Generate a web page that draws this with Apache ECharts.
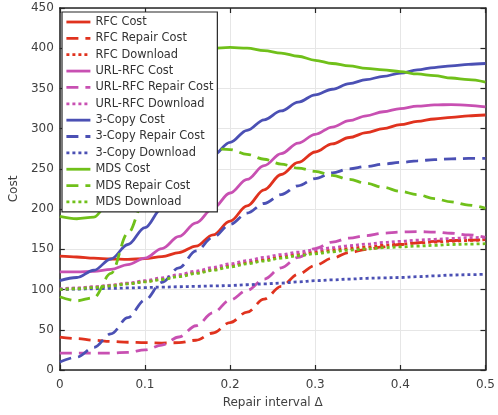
<!DOCTYPE html>
<html>
<head>
<meta charset="utf-8">
<script src="https://cdn.jsdelivr.net/npm/echarts@6/dist/echarts.min.js"></script>
<style>
  html, body { margin: 0; padding: 0; background: #fff; }
  #chart { width: 498px; height: 415px; }
</style>
</head>
<body>
<div id="chart"></div>
<script>
// Repair interval samples (shared by every curve)
const intervals = [0, 0.02, 0.04, 0.06, 0.08, 0.10, 0.12, 0.14, 0.16, 0.18, 0.20, 0.22, 0.24,
                   0.26, 0.28, 0.30, 0.32, 0.34, 0.36, 0.38, 0.40, 0.42, 0.44, 0.46, 0.48, 0.50];

const rfcCost        = [141.5, 140.5, 139, 138, 137.5, 138.5, 141, 146, 154, 168, 185, 204, 224, 243, 258, 271, 281, 289, 295, 300, 305, 309, 312, 314, 316, 317];
const rfcRepair      = [41, 39, 37, 35.5, 34.5, 34, 33.5, 34, 37, 46, 59, 72, 88, 104, 119, 130, 139, 146, 150, 153, 156, 158, 160, 161, 161.5, 162];
const rfcDownload    = [100, 101.5, 103, 105, 107.5, 110, 113, 117, 121, 125, 129.5, 133.5, 137, 140.5, 143.5, 146.5, 149, 151, 153, 155, 156.5, 158, 159, 160, 161, 162];

const urlCost        = [122, 122, 122.5, 125, 131, 139, 151, 166, 183, 201, 220, 237, 254, 269, 282, 293, 302, 310, 316, 321, 325, 328, 329.5, 330, 329, 327];
const urlRepair      = [21, 21, 21, 21, 22, 25, 31, 41, 55, 71, 87, 99, 113, 127, 140, 151, 159, 164, 167, 170, 171.5, 172, 171.5, 170, 168, 165];
const urlDownload    = [101, 102, 103.5, 105.5, 108, 111, 114.5, 118.5, 123, 127.5, 132, 136, 140, 143.5, 146.5, 149.5, 152, 154.5, 156.5, 158.5, 160, 161.5, 162.5, 163.5, 164.5, 165];

const copyCost       = [111, 115, 124, 138, 156, 177, 201, 225, 248, 267, 283, 298, 311, 322, 333, 342, 349, 356, 361, 365, 369, 373, 376, 378, 380, 381];
const copyRepair     = [10, 16, 28, 45, 65, 87, 109, 127, 148, 165, 181, 195, 207, 218, 229, 238, 245, 250, 253, 256, 258, 260, 261.5, 262.5, 263, 263];
const copyDownload   = [100, 100.5, 101, 101.5, 102, 102.5, 103, 103.5, 104, 104.5, 105, 106, 107, 108, 109.5, 111, 112, 113, 114, 114.5, 115, 116, 117, 118, 118.5, 119];

const mdsCost        = [191, 188, 190, 212, 262, 312, 352, 378, 393, 400, 401, 400, 397, 394, 390, 385, 381, 378, 375, 373, 371, 368, 366, 363, 361, 358];
const mdsRepair      = [91, 86, 90, 120, 170, 213, 243, 261, 271, 275, 274, 268, 262, 256, 251, 247, 242, 237, 232, 227, 222, 218, 213, 209, 205, 201];
const mdsDownload    = [100, 101, 102.5, 104.5, 107, 109.5, 112.5, 116, 120, 124, 128, 132, 135.5, 139, 142, 144.5, 147, 149, 150.5, 152, 153, 154, 155, 156, 156.5, 157];

const xTicks = [0, 0.1, 0.2, 0.3, 0.4, 0.5];
const yTicks = [0, 50, 100, 150, 200, 250, 300, 350, 400, 450];

const RED = '#e0321e', MAGENTA = '#c850b2', BLUE = '#4b50b4', GREEN = '#70c01a';
const SOLID = 'solid', DASHED = [12, 7], DOTTED = [3, 3];

const curves = [
  ['RFC Cost', rfcCost, RED, SOLID],
  ['RFC Repair Cost', rfcRepair, RED, DASHED],
  ['RFC Download', rfcDownload, RED, DOTTED],
  ['URL-RFC Cost', urlCost, MAGENTA, SOLID],
  ['URL-RFC Repair Cost', urlRepair, MAGENTA, DASHED],
  ['URL-RFC Download', urlDownload, MAGENTA, DOTTED],
  ['3-Copy Cost', copyCost, BLUE, SOLID],
  ['3-Copy Repair Cost', copyRepair, BLUE, DASHED],
  ['3-Copy Download', copyDownload, BLUE, DOTTED],
  ['MDS Cost', mdsCost, GREEN, SOLID],
  ['MDS Repair Cost', mdsRepair, GREEN, DASHED],
  ['MDS Download', mdsDownload, GREEN, DOTTED]
];

const FONT = 'DejaVu Sans';
const TXT = '#404040';
const AXIS = '#262626';

const xMin = xTicks[0], xMax = xTicks[xTicks.length - 1], xStep = xTicks[1] - xTicks[0];
const yMin = yTicks[0], yMax = yTicks[yTicks.length - 1], yStep = yTicks[1] - yTicks[0];

function mirrorAxis(position, min, max, step) {
  return {
    type: 'value', position, min, max, interval: step,
    axisLine: { show: true, onZero: false, lineStyle: { color: AXIS, width: 1.6 } },
    axisTick: { show: true, inside: true, length: 5, lineStyle: { color: AXIS, width: 1.2 } },
    axisLabel: { show: false },
    splitLine: { show: false }
  };
}

const chart = echarts.init(document.getElementById('chart'), null, { renderer: 'canvas' });

chart.setOption({
  animation: false,
  backgroundColor: '#fff',
  grid: { left: 54, right: 10, top: 8, bottom: 45 },
  legend: {
    orient: 'vertical',
    left: 62, top: 12,
    padding: [4, 4, 4, 3],
    itemGap: 4.36,
    itemWidth: 24,
    itemHeight: 12,
    backgroundColor: '#fff',
    borderColor: AXIS,
    borderWidth: 1.2,
    borderRadius: 0,
    // keep only the line sample in each legend icon
    itemStyle: { opacity: 0 },
    lineStyle: { width: 2.8 },
    textStyle: { fontFamily: FONT, fontSize: 11.4, lineHeight: 12, color: '#333' },
    data: curves.map(c => c[0])
  },
  xAxis: [
    {
      type: 'value', min: xMin, max: xMax, interval: xStep,
      name: 'Repair interval \u0394', nameLocation: 'middle', nameGap: 27,
      nameTextStyle: { fontFamily: FONT, fontSize: 12, color: TXT },
      axisLine: { show: true, onZero: false, lineStyle: { color: AXIS, width: 1.6 } },
      axisTick: { show: true, inside: true, length: 5, lineStyle: { color: AXIS, width: 1.2 } },
      axisLabel: { fontFamily: FONT, fontSize: 12, color: TXT, margin: 9 },
      splitLine: { show: true, lineStyle: { color: '#e6e6e6', width: 1 } }
    },
    mirrorAxis('top', xMin, xMax, xStep)
  ],
  yAxis: [
    {
      type: 'value', min: yMin, max: yMax, interval: yStep,
      name: 'Cost', nameLocation: 'middle', nameGap: 32,
      nameTextStyle: { fontFamily: FONT, fontSize: 12, color: TXT },
      axisLine: { show: true, onZero: false, lineStyle: { color: AXIS, width: 1.6 } },
      axisTick: { show: true, inside: true, length: 5, lineStyle: { color: AXIS, width: 1.2 } },
      axisLabel: { fontFamily: FONT, fontSize: 12, color: TXT, margin: 6 },
      splitLine: { show: true, lineStyle: { color: '#e6e6e6', width: 1 } }
    },
    mirrorAxis('right', yMin, yMax, yStep)
  ],
  series: curves.map(([name, values, color, dash]) => ({
    name,
    type: 'line',
    xAxisIndex: 0,
    yAxisIndex: 0,
    data: intervals.map((x, i) => [x, values[i]]),
    smooth: 0.35,
    smoothMonotone: 'x',
    symbol: 'none',
    color,
    lineStyle: { color, width: 2.8, type: dash, cap: 'butt' },
    emphasis: { disabled: true }
  }))
});
</script>
</body>
</html>
